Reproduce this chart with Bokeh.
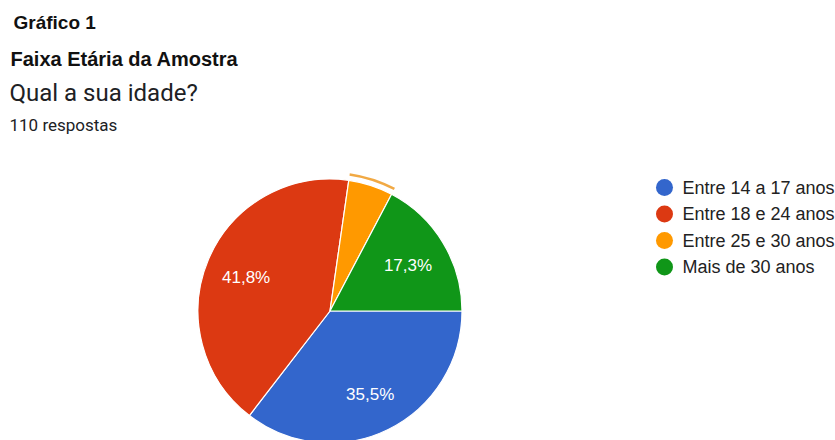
import math
from bokeh.plotting import figure
from bokeh.models import Range1d, ColumnDataSource
from bokeh.core.properties import value
from bokeh.embed import file_html
from bokeh.resources import INLINE

W, H = 835, 440

categories = ["Entre 14 a 17 anos", "Entre 18 e 24 anos", "Entre 25 e 30 anos", "Mais de 30 anos"]
counts = [39, 46, 6, 19]
colors = ["#3366cc", "#dc3912", "#ff9900", "#109618"]
pct_labels = ["35,5%", "41,8%", "", "17,3%"]
highlighted = 2

p = figure(width=W, height=H, output_backend="svg", toolbar_location=None,
           x_range=Range1d(0, W), y_range=Range1d(0, H), min_border=0,
           background_fill_color="white", border_fill_color="white")
p.axis.visible = False
p.grid.visible = False
p.outline_line_color = None

def Y(top):
    return H - top

# headings
p.text(x=[13], y=[Y(22)], text=["Gráfico 1"], text_font=value("Liberation Sans"),
       text_font_style="bold", text_font_size="19px", text_color="#111111", text_baseline="middle")
p.text(x=[10], y=[Y(58)], text=["Faixa Etária da Amostra"], text_font=value("Liberation Sans"),
       text_font_style="bold", text_font_size="20px", text_color="#111111", text_baseline="middle")
p.text(x=[9], y=[Y(92)], text=["Qual a sua idade?"], text_font=value("Roboto"),
       text_font_size="24px", text_color="#202124", text_baseline="middle")
p.text(x=[9], y=[Y(124)], text=["110 respostas"], text_font=value("Roboto"),
       text_font_size="17px", text_color="#202124", text_baseline="middle")

# pie
cx, cy, r = 329.5, Y(310.5), 132
total = sum(counts)
starts, ends, mids = [], [], []
acc = 0.0
for c in counts:
    a0 = acc / total * 2 * math.pi
    acc += c
    a1 = acc / total * 2 * math.pi
    starts.append(-a0)
    ends.append(-a1)
    mids.append(-(a0 + a1) / 2)

src = ColumnDataSource(dict(start=starts, end=ends, color=colors))
p.wedge(x=cx, y=cy, radius=r, start_angle="start", end_angle="end", direction="clock",
        fill_color="color", line_color="white", line_width=1.2, source=src)

# hover highlight arc on orange slice
p.arc(x=cx, y=cy, radius=r + 6, start_angle=starts[highlighted], end_angle=ends[highlighted],
      direction="clock", line_color="#f0a030", line_width=2.5, line_alpha=0.9)

lr = r * 0.69
lx = [cx + lr * math.cos(m) for m in mids]
ly = [cy + lr * math.sin(m) - 2 for m in mids]
p.text(x=lx, y=ly, text=pct_labels, text_font=value("Liberation Sans"), text_font_size="17px",
       text_color="white", text_align="center", text_baseline="middle")

# legend
leg_y = [Y(187), Y(213.5), Y(240), Y(266.5)]
p.scatter(x=[664] * 4, y=leg_y, size=17, marker="circle", fill_color=colors, line_color=None)
p.text(x=[682] * 4, y=leg_y, text=categories, text_font=value("Liberation Sans"), text_font_size="18px",
       text_color="#222222", text_baseline="middle")

open("out.html", "w").write(file_html(p, INLINE))
